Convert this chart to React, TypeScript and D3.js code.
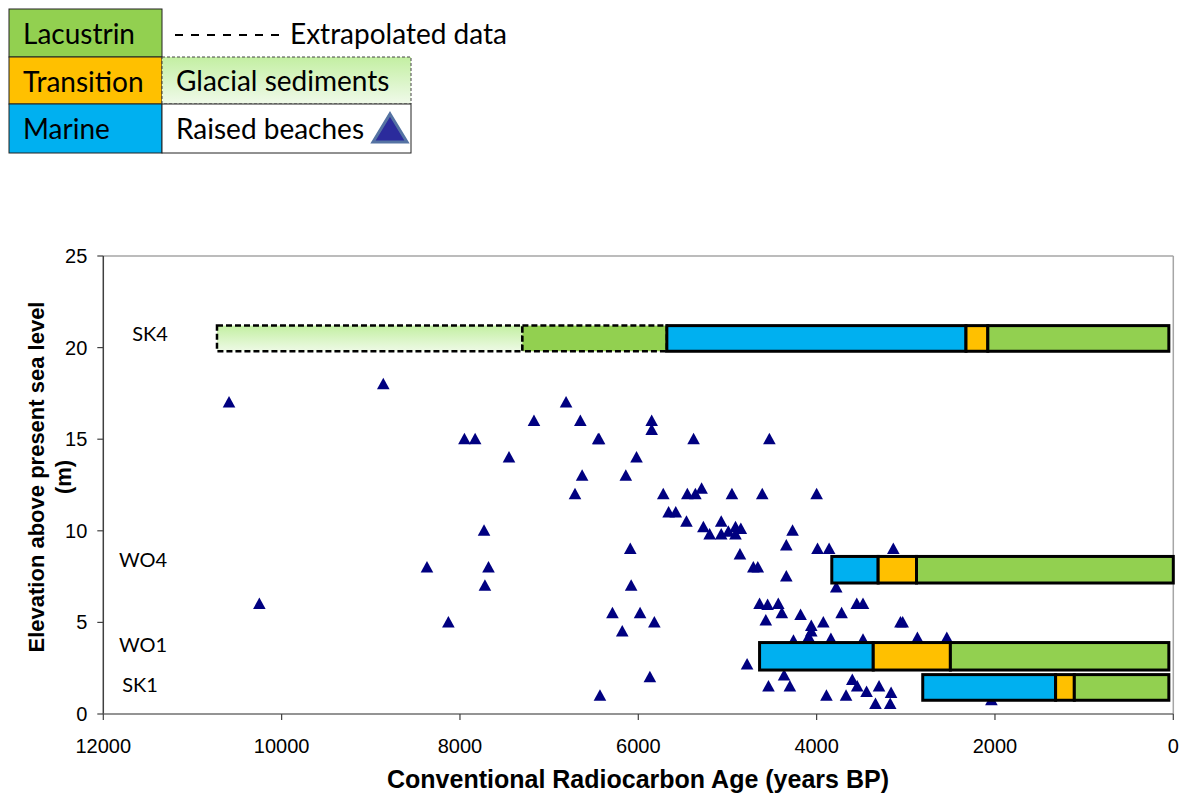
import React from "react";
import * as d3 from "d3";

// ---------- DATA ----------
const xTicks = [12000, 10000, 8000, 6000, 4000, 2000, 0];
const yTicks = [0, 5, 10, 15, 20, 25];

// Raised beaches: [age (years BP), elevation (m)]
const raisedBeaches: [number, number][] = [
  [10590, 17], [10250, 6], [8860, 18], [8370, 8], [8130, 5], [7950, 15], [7830, 15],
  [7730, 10], [7680, 8], [7720, 7], [7450, 14], [7170, 16], [6810, 17], [6650, 16],
  [5850, 16], [5850, 15.5], [6450, 15], [6440, 15], [6020, 14], [6630, 13], [6140, 13],
  [6710, 12], [5720, 12], [5660, 11], [5580, 11], [6090, 9], [6080, 7], [6290, 5.5],
  [5980, 5.5], [5820, 5], [6180, 4.5], [5870, 2], [6430, 1],
  [5380, 15], [4530, 15], [5450, 12], [5360, 12], [5290, 12.3], [4950, 12], [4610, 12], [4000, 12],
  [5460, 10.5], [5270, 10.2], [5070, 10.5], [5200, 9.8], [5070, 9.8], [4990, 9.95], [4910, 10.2],
  [4850, 10.1], [4910, 9.8], [4270, 10], [4340, 9.2], [3990, 9], [3860, 9], [4860, 8.7],
  [4710, 8], [4660, 8], [4340, 7.5], [3780, 6.9],
  [4640, 6], [4550, 5.95], [4430, 6], [4390, 5.5], [4570, 5.1], [4180, 5.4], [3720, 5.5],
  [3550, 6], [3480, 6], [4060, 4.8], [4060, 4.5], [3925, 5], [3060, 5], [3035, 5],
  [4090, 4.2], [3840, 4.1], [4260, 4], [3480, 4.05], [2870, 4.15], [2540, 4.15], [3140, 9],
  [4780, 2.7], [4365, 2.1], [4540, 1.5], [4300, 1.5], [3600, 1.85], [3545, 1.5], [3440, 1.2],
  [3300, 1.5], [3165, 1.15], [3890, 1], [3670, 1], [3340, 0.55], [3175, 0.55], [2040, 0.75],
];

const siteNames = ["SK4", "WO4", "WO1", "SK1"];
const siteBottom = [19.8, 7.15, 2.4, 0.75];
const siteTop = [21.2, 8.6, 3.9, 2.15];
const siteLabelElev = [20.8, 8.45, 3.8, 1.64];

// segments: [from age, to age, facies, extrapolated]
type Seg = [number, number, string, boolean];
const sk4Segments: Seg[] = [
  [10725, 7300, "Glacial", true],
  [7300, 5680, "Lacustrin", true],
  [5680, 2325, "Marine", false],
  [2325, 2080, "Transition", false],
  [2080, 50, "Lacustrin", false],
];
const wo4Segments: Seg[] = [
  [3830, 3310, "Marine", false],
  [3310, 2880, "Transition", false],
  [2880, 0, "Lacustrin", false],
];
const wo1Segments: Seg[] = [
  [4640, 3365, "Marine", false],
  [3365, 2500, "Transition", false],
  [2500, 50, "Lacustrin", false],
];
const sk1Segments: Seg[] = [
  [2810, 1320, "Marine", false],
  [1320, 1110, "Transition", false],
  [1110, 50, "Lacustrin", false],
];
const siteSegments = [sk4Segments, wo4Segments, wo1Segments, sk1Segments];

const legendFacies = ["Lacustrin", "Transition", "Marine"];

// ---------- STYLE ----------
const faciesColor: Record<string, string> = {
  Lacustrin: "#92D050",
  Transition: "#FFC000",
  Marine: "#00B0F0",
  Glacial: "url(#glacialGrad)",
};
const labelX = [150, 143, 143, 140];

const plot = { left: 103.3, right: 1173.3, top: 256, bottom: 714 };

export default function App() {
  const x = d3.scaleLinear().domain([12000, 0]).range([plot.left, plot.right]);
  const y = d3.scaleLinear().domain([0, 25]).range([plot.bottom, plot.top]);
  const tri = "M0,-6.5L6.3,5L-6.3,5Z";
  const legendFont = "Lato, 'Open Sans', sans-serif";
  const axisFont = "'Liberation Sans', Arial, sans-serif";

  return (
    <svg
      width={1180}
      height={794}
      style={{ position: "absolute", left: 0, top: 0, background: "#fff" }}
    >
      <defs>
        <linearGradient id="glacialGrad" x1="0" y1="0" x2="0" y2="1">
          <stop offset="0%" stopColor="#C3EFA2" />
          <stop offset="100%" stopColor="#EEFAE6" />
        </linearGradient>
        <linearGradient id="glacialGradLeg" x1="0" y1="0" x2="0" y2="1">
          <stop offset="0%" stopColor="#C3EFA2" />
          <stop offset="100%" stopColor="#F0FAEA" />
        </linearGradient>
      </defs>
      <rect width={1180} height={794} fill="#fff" />

      {/* Legend */}
      <g fontFamily={legendFont} fontSize={28} fill="#000">
        {legendFacies.map((f, i) => {
          const y0 = [9, 57, 104][i];
          const y1 = [57, 104, 153][i];
          return (
            <g key={f}>
              <rect x={9} y={y0} width={153} height={y1 - y0} fill={faciesColor[f]} stroke="#222" strokeWidth={1} />
              <text x={23} y={y0 + 35}>{f}</text>
            </g>
          );
        })}
        <line x1={175} x2={281} y1={35} y2={35} stroke="#000" strokeWidth={2} strokeDasharray="8,8" />
        <text x={290} y={44}>Extrapolated data</text>
        <rect x={162} y={57} width={249} height={47} fill="url(#glacialGradLeg)" stroke="#444" strokeWidth={1} strokeDasharray="3,2" />
        <text x={176} y={91}>Glacial sediments</text>
        <rect x={162} y={104} width={249} height={49} fill="#fff" stroke="#222" strokeWidth={1} />
        <text x={176} y={139}>Raised beaches</text>
        <path d="M390,114L407,142L373,142Z" fill="#2B2B9C" stroke="#5573A3" strokeWidth={3} strokeLinejoin="miter" />
      </g>

      {/* Plot frame */}
      <line x1={plot.left} x2={plot.right} y1={plot.top} y2={plot.top} stroke="#A6A6A6" strokeWidth={1.5} />
      <line x1={plot.right} x2={plot.right} y1={plot.top} y2={plot.bottom} stroke="#A6A6A6" strokeWidth={1.5} />

      {/* Raised beaches */}
      <g fill="#000080">
        {raisedBeaches.map(([a, e], i) => (
          <path key={i} d={tri} transform={`translate(${x(a)},${y(e)})`} />
        ))}
      </g>

      {/* Core bars */}
      {siteSegments.map((segs, si) => (
        <g key={siteNames[si]}>
          {segs.map(([from, to, f, dashed], k) => (
            <rect
              key={k}
              x={x(from)}
              y={y(siteTop[si])}
              width={x(to) - x(from)}
              height={y(siteBottom[si]) - y(siteTop[si])}
              fill={faciesColor[f]}
              stroke="#000"
              strokeWidth={dashed ? 2.5 : 3}
              strokeDasharray={dashed ? "6,3" : undefined}
            />
          ))}
        </g>
      ))}

      {/* Site labels */}
      <g fontFamily={legendFont} fontSize={20} fill="#000" textAnchor="middle">
        {siteNames.map((n, i) => (
          <text key={n} x={labelX[i]} y={y(siteLabelElev[i])} dominantBaseline="central">{n}</text>
        ))}
      </g>

      {/* Axes */}
      <line x1={plot.left} x2={plot.left} y1={plot.top} y2={plot.bottom} stroke="#404040" strokeWidth={1.5} />
      <line x1={plot.left} x2={plot.right} y1={plot.bottom} y2={plot.bottom} stroke="#707070" strokeWidth={1.5} />
      <g fontFamily={axisFont} fontSize={20} fill="#000">
        {yTicks.map((t) => (
          <g key={t}>
            <line x1={plot.left - 6} x2={plot.left} y1={y(t)} y2={y(t)} stroke="#404040" strokeWidth={1.2} />
            <text x={plot.left - 16} y={y(t)} textAnchor="end" dominantBaseline="central">{t}</text>
          </g>
        ))}
        {xTicks.map((t) => (
          <g key={t}>
            <line x1={x(t)} x2={x(t)} y1={plot.bottom} y2={plot.bottom + 6} stroke="#404040" strokeWidth={1.2} />
            <text x={x(t)} y={plot.bottom + 32} textAnchor="middle" dominantBaseline="central">{t}</text>
          </g>
        ))}
      </g>
      <g fontFamily={axisFont} fontWeight="bold" fill="#000" textAnchor="middle">
        <text x={638} y={779} fontSize={25} dominantBaseline="central">
          Conventional Radiocarbon Age (years BP)
        </text>
        <text transform="translate(36,477) rotate(-90)" fontSize={22} dominantBaseline="central">
          Elevation above present sea level
        </text>
        <text transform="translate(63,477) rotate(-90)" fontSize={22} dominantBaseline="central">(m)</text>
      </g>
    </svg>
  );
}
